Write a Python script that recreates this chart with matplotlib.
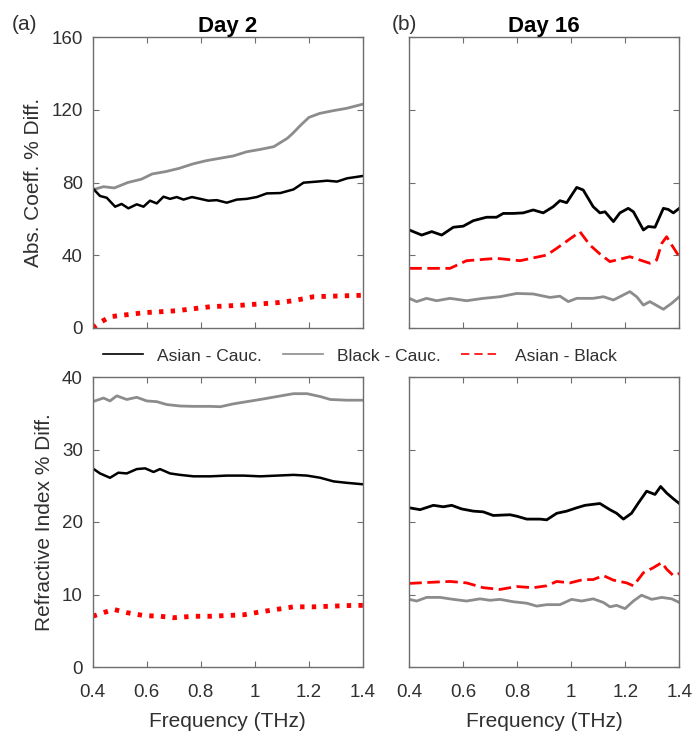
import matplotlib
matplotlib.use("Agg")
import matplotlib.pyplot as plt
from matplotlib.lines import Line2D

plt.rcParams['font.family'] = ['Liberation Sans', 'DejaVu Sans']

# ---------------- data ----------------
# Day 2, absorption coefficient % diff
d2a_ac_f = [.400,.427,.452,.483,.507,.532,.563,.588,.612,.637,.662,.686,.711,.736,.767,.798,.828,.859,.896,.933,.970,1.007,1.044,1.094,1.143,1.180,1.230,1.267,1.304,1.341,1.400]
d2a_ac_v = [76.9,72.6,71.6,66.7,68.2,65.8,68.0,66.7,70.0,68.5,72.2,71.0,72.0,70.6,72.0,71.0,70.0,70.3,68.9,70.6,71.0,72.0,74.0,74.2,76.2,79.9,80.5,81.0,80.5,82.3,83.6]
d2a_bc_f = [.40,.44,.48,.53,.58,.62,.67,.72,.77,.82,.87,.92,.97,1.02,1.07,1.12,1.14,1.17,1.20,1.24,1.29,1.34,1.40]
d2a_bc_v = [76.0,77.7,77.0,80.0,81.8,84.7,86.0,87.8,90.2,92.0,93.3,94.6,96.9,98.2,99.7,104.3,107.0,111.6,115.8,118.0,119.5,120.8,123.1]
d2a_ab_f = [.400,.427,.464,.588,.711,.835,.958,1.081,1.143,1.217,1.400]
d2a_ab_v = [0.0,3.0,6.2,8.4,9.5,11.7,12.6,13.9,15.0,17.2,18.0]

# Day 16, absorption coefficient % diff
d16a_ac_f = [.400,.446,.483,.520,.563,.600,.637,.686,.723,.748,.785,.822,.859,.896,.933,.958,.983,1.020,1.044,1.081,1.106,1.125,1.156,1.180,1.211,1.230,1.267,1.285,1.310,1.341,1.359,1.378,1.400]
d16a_ac_v = [53.9,51.1,53.0,51.1,55.4,56.0,59.0,60.9,60.9,63.0,63.0,63.3,64.9,63.3,66.7,70.0,68.9,77.3,75.9,66.7,63.3,63.9,58.5,63.3,65.8,63.9,53.9,55.8,55.4,65.8,65.2,63.3,65.8]
d16a_ab_f = [.400,.551,.612,.723,.810,.909,.946,1.032,1.069,1.106,1.143,1.217,1.291,1.316,1.335,1.353,1.372,1.400]
d16a_ab_v = [32.8,32.8,37.0,38.3,37.0,40.1,43.8,52.9,45.6,40.7,36.5,39.2,35.6,37.4,46.5,50.2,45.6,39.2]
d16a_bc_f = [.400,.427,.464,.501,.551,.612,.674,.736,.798,.859,.921,.958,.989,1.020,1.081,1.119,1.156,1.217,1.242,1.267,1.291,1.341,1.372,1.400]
d16a_bc_v = [16.3,14.5,16.3,15.0,16.3,15.0,16.3,17.2,19.0,18.7,16.8,17.5,14.5,16.3,16.3,17.2,15.4,20.0,17.2,12.6,14.5,10.3,13.6,17.2]

# Day 2, refractive index % diff
d2n_bc_f = [.400,.440,.464,.489,.526,.563,.600,.637,.674,.723,.773,.835,.872,.921,.970,1.020,1.081,1.143,1.193,1.242,1.279,1.341,1.400]
d2n_bc_v = [36.6,37.1,36.7,37.4,36.9,37.2,36.7,36.6,36.2,36.0,35.95,35.95,35.9,36.3,36.6,36.9,37.3,37.7,37.7,37.3,36.9,36.8,36.8]
d2n_ac_f = [.400,.427,.464,.495,.526,.563,.594,.625,.649,.686,.723,.773,.835,.896,.958,1.020,1.081,1.143,1.193,1.242,1.291,1.341,1.400]
d2n_ac_v = [27.4,26.7,26.1,26.8,26.7,27.3,27.4,26.9,27.3,26.7,26.5,26.3,26.3,26.4,26.4,26.3,26.4,26.5,26.4,26.1,25.6,25.4,25.2]
d2n_ab_f = [.400,.477,.526,.588,.649,.699,.773,.835,.896,.958,1.020,1.081,1.143,1.217,1.291,1.365,1.400]
d2n_ab_v = [7.0,7.95,7.5,7.1,7.0,6.8,7.0,7.0,7.1,7.2,7.6,7.95,8.3,8.3,8.4,8.5,8.5]

# Day 16, refractive index % diff
d16n_ac_f = [.400,.440,.489,.526,.557,.594,.637,.674,.711,.773,.798,.835,.884,.909,.946,.983,1.020,1.051,1.106,1.143,1.168,1.193,1.223,1.248,1.279,1.310,1.331,1.353,1.378,1.400]
d16n_ac_v = [21.96,21.7,22.3,22.1,22.3,21.8,21.5,21.4,20.9,21.0,20.8,20.4,20.4,20.3,21.2,21.5,21.96,22.3,22.55,21.7,21.2,20.4,21.2,22.6,24.25,23.8,24.9,24.0,23.2,22.55]
d16n_ab_f = [.400,.489,.551,.612,.674,.736,.798,.859,.909,.946,.995,1.044,1.081,1.119,1.156,1.205,1.230,1.267,1.304,1.335,1.353,1.378,1.400]
d16n_ab_v = [11.53,11.7,11.8,11.6,10.94,10.7,11.1,10.94,11.2,11.8,11.6,12.06,12.06,12.6,11.98,11.6,11.2,13.0,13.7,14.4,13.5,12.6,12.9]
d16n_bc_f = [.400,.427,.464,.514,.563,.612,.662,.699,.736,.785,.835,.872,.909,.958,1.001,1.038,1.081,1.119,1.143,1.168,1.199,1.230,1.260,1.298,1.335,1.372,1.400]
d16n_bc_v = [9.33,9.1,9.6,9.6,9.33,9.1,9.4,9.2,9.33,9.0,8.8,8.4,8.6,8.6,9.33,9.1,9.4,8.9,8.3,8.5,8.05,9.1,9.9,9.33,9.6,9.4,8.9]

series_labels = ['Asian - Cauc.', 'Black - Cauc.', 'Asian - Black']
titles = ['Day 2', 'Day 16']
panel_tags = ['(a)', '(b)']
xticks = [0.4, 0.6, 0.8, 1.0, 1.2, 1.4]
xticklabels = ['0.4', '0.6', '0.8', '1', '1.2', '1.4']
top_yticks = [0, 40, 80, 120, 160]
bot_yticks = [0, 10, 20, 30, 40]

# ---------------- style ----------------
BLACK = '#000000'
GRAY = '#8c8c8c'
RED = '#ff0000'
SPINE = '#6e6e6e'
TXT = '#303030'

W, H = 694, 737
fig = plt.figure(figsize=(W / 100, H / 100), dpi=100)

def px_axes(x0, y0, x1, y1):
    return fig.add_axes([x0 / W, 1 - y1 / H, (x1 - x0) / W, (y1 - y0) / H])

ax_tl = px_axes(92.7, 37, 363, 328)
ax_tr = px_axes(409.3, 37, 679.3, 328)
ax_bl = px_axes(92.7, 377, 363, 667)
ax_br = px_axes(409.3, 377, 679.3, 667)

def style(ax, yticks, show_ylabels, show_xlabels):
    ax.set_xlim(0.4, 1.4)
    ax.set_ylim(yticks[0], yticks[-1])
    ax.set_xticks(xticks)
    ax.set_yticks(yticks)
    ax.tick_params(direction='in', top=True, right=True, length=4, width=0.8,
                   color=SPINE, labelcolor=TXT, labelsize=13.5)
    ax.tick_params(axis='x', pad=12)
    ax.tick_params(axis='y', pad=7)
    for s in ax.spines.values():
        s.set_color(SPINE)
        s.set_linewidth(1.0)
    if show_xlabels:
        ax.set_xticklabels(xticklabels)
        ax.set_xlabel('Frequency (THz)', fontsize=15, color=TXT, labelpad=8)
    else:
        ax.set_xticklabels([])
    if not show_ylabels:
        ax.set_yticklabels([])

dot_style = dict(color=RED, lw=3.5, linestyle=(0, (0.9, 1.5)), dash_capstyle='butt')
dash_style = dict(color=RED, lw=2.0, linestyle=(0, (4.5, 2.0)))

# top-left
ax_tl.plot(d2a_bc_f, d2a_bc_v, color=GRAY, lw=2.0)
ax_tl.plot(d2a_ac_f, d2a_ac_v, color=BLACK, lw=1.8)
ax_tl.plot(d2a_ab_f, d2a_ab_v, **dot_style)
style(ax_tl, top_yticks, True, False)
ax_tl.set_ylabel('Abs. Coeff. % Diff.', fontsize=15, color=TXT, labelpad=6)

# top-right
ax_tr.plot(d16a_bc_f, d16a_bc_v, color=GRAY, lw=2.0)
ax_tr.plot(d16a_ab_f, d16a_ab_v, **dash_style)
ax_tr.plot(d16a_ac_f, d16a_ac_v, color=BLACK, lw=2.0)
style(ax_tr, top_yticks, False, False)

# bottom-left
ax_bl.plot(d2n_bc_f, d2n_bc_v, color=GRAY, lw=2.0)
ax_bl.plot(d2n_ac_f, d2n_ac_v, color=BLACK, lw=1.8)
ax_bl.plot(d2n_ab_f, d2n_ab_v, **dot_style)
style(ax_bl, bot_yticks, True, True)
ax_bl.set_ylabel('Refractive Index % Diff.', fontsize=15, color=TXT, labelpad=6)

# bottom-right
ax_br.plot(d16n_bc_f, d16n_bc_v, color=GRAY, lw=2.0)
ax_br.plot(d16n_ab_f, d16n_ab_v, **dash_style)
ax_br.plot(d16n_ac_f, d16n_ac_v, color=BLACK, lw=2.0)
style(ax_br, bot_yticks, False, True)

for ax, t in zip([ax_tl, ax_tr], titles):
    ax.set_title(t, fontsize=16, fontweight='bold', color=BLACK, pad=3)

fig.text(12 / W, 1 - 24 / H, panel_tags[0], fontsize=15, color=TXT, va='center', ha='left')
fig.text(392 / W, 1 - 25 / H, panel_tags[1], fontsize=15, color=TXT, va='center', ha='left')

# legend
handles = [Line2D([], [], color=BLACK, lw=1.2),
           Line2D([], [], color=GRAY, lw=1.2),
           Line2D([], [], color=RED, lw=1.2, linestyle=(0, (5, 3)))]
fig.legend(handles, series_labels, loc='center', bbox_to_anchor=(360 / W, 1 - 356 / H),
           ncol=3, frameon=False, fontsize=12.5, handlelength=2.3, columnspacing=1.2,
           handletextpad=0.8, labelcolor=TXT)

fig.savefig('out.png', dpi=100)
